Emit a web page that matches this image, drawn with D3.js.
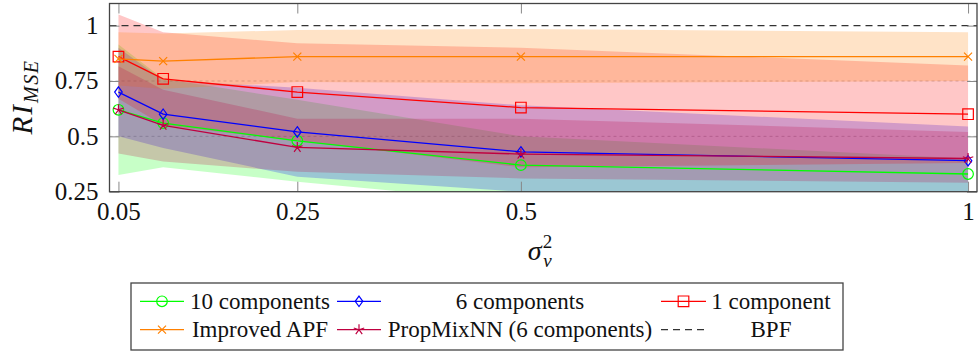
<!DOCTYPE html>
<html>
<head>
<meta charset="utf-8">
<script src="https://cdn.jsdelivr.net/npm/d3@7"></script>
<style>
body { margin: 0; background: #fff; }
</style>
</head>
<body>
<div id="chart"></div>
<script>
var width = 979;
var height = 354;

// data
var xValues = [0.05, 0.1, 0.25, 0.5, 1];
var xTicks = [0.05, 0.25, 0.5, 1];
var xTickLabels = ["0.05", "0.25", "0.5", "1"];
var yTicks = [0.25, 0.5, 0.75, 1];
var yTickLabels = ["0.25", "0.5", "0.75", "1"];

var comp10Mean = [0.62, 0.56, 0.48, 0.37, 0.33];
var comp10Low = [0.325, 0.36, 0.295, 0.2, 0.2];
var comp10High = [0.915, 0.76, 0.665, 0.5, 0.4];

var comp6Mean = [0.70, 0.60, 0.52, 0.43, 0.39];
var comp6Low = [0.50, 0.447, 0.318, 0.25, 0.236];
var comp6High = [0.90, 0.753, 0.72, 0.64, 0.544];

var comp1Mean = [0.86, 0.76, 0.70, 0.63, 0.60];
var comp1Low = [0.67, 0.55, 0.48, 0.36, 0.38];
var comp1High = [1.05, 0.97, 0.92, 0.90, 0.82];

var apfMean = [0.85, 0.84, 0.86, 0.86, 0.86];
var apfLow = [0.73, 0.715, 0.745, 0.74, 0.75];
var apfHigh = [0.97, 0.965, 0.98, 0.985, 0.97];

var propMean = [0.62, 0.55, 0.45, 0.42, 0.40];
var propLow = [0.423, 0.386, 0.34, 0.31, 0.29];
var propHigh = [0.817, 0.71, 0.58, 0.58, 0.52];

var bpfValue = 1;

var series = [
	{ name: "10 components", color: "#00ff00", mark: "circle", mean: comp10Mean, low: comp10Low, high: comp10High },
	{ name: "6 components", color: "#0000ff", mark: "diamond", mean: comp6Mean, low: comp6Low, high: comp6High },
	{ name: "1 component", color: "#ff0000", mark: "square", mean: comp1Mean, low: comp1Low, high: comp1High },
	{ name: "Improved APF", color: "#ff8000", mark: "x", mean: apfMean, low: apfLow, high: apfHigh },
	{ name: "PropMixNN (6 components)", color: "#bf0040", mark: "star", mean: propMean, low: propLow, high: propHigh },
];

var svg = d3
	.select("#chart")
	.append("svg")
	.attr("width", width)
	.attr("height", height);

var plot = { left: 109.5, right: 977, top: 3.5, bottom: 191.7 };

var xscale = d3.scaleLinear().domain([0.04, 1.01]).range([plot.left, plot.right]);
var yscale = d3.scaleLinear().domain([0.25, 1.1]).range([plot.bottom, plot.top]);

svg.append("defs")
	.append("clipPath")
	.attr("id", "clip")
	.append("rect")
	.attr("x", plot.left)
	.attr("y", plot.top)
	.attr("width", plot.right - plot.left)
	.attr("height", plot.bottom - plot.top);

// light dashed grid
svg.append("g")
	.selectAll("line")
	.data([0.5, 0.75])
	.enter()
	.append("line")
	.attr("x1", plot.left)
	.attr("x2", plot.right)
	.attr("y1", (d) => yscale(d))
	.attr("y2", (d) => yscale(d))
	.attr("stroke", "#c8c8c8")
	.attr("stroke-width", 1)
	.attr("stroke-dasharray", "3,3");

var inner = svg.append("g").attr("clip-path", "url(#clip)");

// bands
var area = d3
	.area()
	.x((d) => xscale(d.x))
	.y0((d) => yscale(d.lo))
	.y1((d) => yscale(d.hi));

series.forEach(function (s) {
	var pts = xValues.map((x, i) => ({ x: x, lo: s.low[i], hi: s.high[i] }));
	inner.append("path")
		.attr("d", area(pts))
		.attr("fill", s.color)
		.attr("fill-opacity", 0.22)
		.attr("stroke", "none");
});

// BPF reference
inner.append("line")
	.attr("x1", plot.left)
	.attr("x2", plot.right)
	.attr("y1", yscale(bpfValue))
	.attr("y2", yscale(bpfValue))
	.attr("stroke", "#333")
	.attr("stroke-width", 1.3)
	.attr("stroke-dasharray", "7,5");

function markPath(type) {
	if (type === "circle") return d3.arc()({ innerRadius: 0, outerRadius: 5.3, startAngle: 0, endAngle: 2 * Math.PI });
	if (type === "diamond") return "M0,-5.2L3.8,0L0,5.2L-3.8,0Z";
	if (type === "square") return "M-5.3,-5.3H5.3V5.3H-5.3Z";
	if (type === "x") return "M-4,-4L4,4M-4,4L4,-4";
	var p = "";
	for (var k = 0; k < 5; k++) {
		var a = -Math.PI / 2 + (k * 2 * Math.PI) / 5;
		p += "M0,0L" + (5.5 * Math.cos(a)).toFixed(2) + "," + (5.5 * Math.sin(a)).toFixed(2);
	}
	return p;
}

var line = d3
	.line()
	.x((d, i) => xscale(xValues[i]))
	.y((d) => yscale(d));

series.forEach(function (s) {
	var g = svg.append("g");
	g.append("path")
		.attr("d", line(s.mean))
		.attr("fill", "none")
		.attr("stroke", s.color)
		.attr("stroke-width", 1.3);
	g.selectAll("path.mark")
		.data(s.mean)
		.enter()
		.append("path")
		.attr("class", "mark")
		.attr("d", markPath(s.mark))
		.attr("transform", (d, i) => `translate(${xscale(xValues[i])},${yscale(d)})`)
		.attr("fill", "none")
		.attr("stroke", s.color)
		.attr("stroke-width", 1.2);
});

// axes, ticks pointing inward
var tickColor = "#888";
var xaxis = svg.append("g")
	.attr("transform", `translate(0,${plot.bottom})`)
	.call(d3.axisBottom(xscale).tickValues(xTicks).tickSizeInner(-10).tickSizeOuter(0).tickPadding(10.5)
		.tickFormat((d, i) => xTickLabels[i]));
var xaxisTop = svg.append("g")
	.attr("transform", `translate(0,${plot.top})`)
	.call(d3.axisTop(xscale).tickValues(xTicks).tickSizeInner(-10).tickSizeOuter(0).tickFormat(""));
var yaxis = svg.append("g")
	.attr("transform", `translate(${plot.left},0)`)
	.call(d3.axisLeft(yscale).tickValues(yTicks).tickSizeInner(-10).tickSizeOuter(0).tickPadding(11)
		.tickFormat((d, i) => yTickLabels[i]));
var yaxisRight = svg.append("g")
	.attr("transform", `translate(${plot.right},0)`)
	.call(d3.axisRight(yscale).tickValues(yTicks).tickSizeInner(-10).tickSizeOuter(0).tickFormat(""));

[xaxis, xaxisTop, yaxis, yaxisRight].forEach(function (ax) {
	ax.select(".domain").remove();
	ax.selectAll(".tick line").attr("stroke", tickColor).attr("stroke-width", 1);
	ax.selectAll(".tick text")
		.attr("font-size", 25)
		.attr("fill", "#111");
});

// frame
svg.append("rect")
	.attr("x", plot.left)
	.attr("y", plot.top)
	.attr("width", plot.right - plot.left)
	.attr("height", plot.bottom - plot.top)
	.attr("fill", "none")
	.attr("stroke", "#444")
	.attr("stroke-width", 1.3);

// axis titles
var ylab = svg.append("text")
	.attr("transform", "translate(32,97) rotate(-90)")
	.attr("text-anchor", "middle")
	.attr("font-style", "italic")
	.attr("font-size", 29);
ylab.append("tspan").text("RI").attr("letter-spacing", 2);
ylab.append("tspan").text("MSE").attr("font-size", 20).attr("dy", 6).attr("letter-spacing", 1.5);

var xlab = svg.append("text")
	.attr("x", 540)
	.attr("y", 260)
	.attr("text-anchor", "middle")
	.attr("font-style", "italic")
	.attr("font-size", 28);
xlab.append("tspan").text("σ");
xlab.append("tspan").text("2").attr("font-style", "normal").attr("font-size", 19).attr("dy", -12).attr("dx", 1);
xlab.append("tspan").text("v").attr("font-size", 19).attr("dx", -9).attr("dy", 19);

// legend
var legend = svg.append("g");
legend.append("rect")
	.attr("x", 131)
	.attr("y", 283)
	.attr("width", 712)
	.attr("height", 67)
	.attr("fill", "#fff")
	.attr("stroke", "#444")
	.attr("stroke-width", 1.3);

var legendCols = [
	{ x0: 140, x1: 184, text: 260 },
	{ x0: 337, x1: 381, text: 520 },
	{ x0: 661, x1: 706, text: 771 },
];
var legendRows = [301.3, 329.7];

var legendItems = series.map((s) => ({ name: s.name, color: s.color, mark: s.mark, dash: null }));
legendItems.push({ name: "BPF", color: "#333", mark: null, dash: "7,5" });

legendItems.forEach(function (item, i) {
	var col = legendCols[i % 3];
	var y = legendRows[Math.floor(i / 3)];
	legend.append("line")
		.attr("x1", col.x0)
		.attr("x2", col.x1)
		.attr("y1", y)
		.attr("y2", y)
		.attr("stroke", item.color)
		.attr("stroke-width", 1.3)
		.attr("stroke-dasharray", item.dash);
	if (item.mark) {
		legend.append("path")
			.attr("d", markPath(item.mark))
			.attr("transform", `translate(${(col.x0 + col.x1) / 2},${y})`)
			.attr("fill", "none")
			.attr("stroke", item.color)
			.attr("stroke-width", 1.2);
	}
	legend.append("text")
		.attr("x", col.text)
		.attr("y", y)
		.attr("dy", "0.33em")
		.attr("text-anchor", "middle")
		.attr("font-size", 23)
		.text(item.name);
});

// serif font on every label
svg.selectAll("text")
	.style("font-family", "'Liberation Serif'")
	.style("fill", "#111");
</script>
</body>
</html>
